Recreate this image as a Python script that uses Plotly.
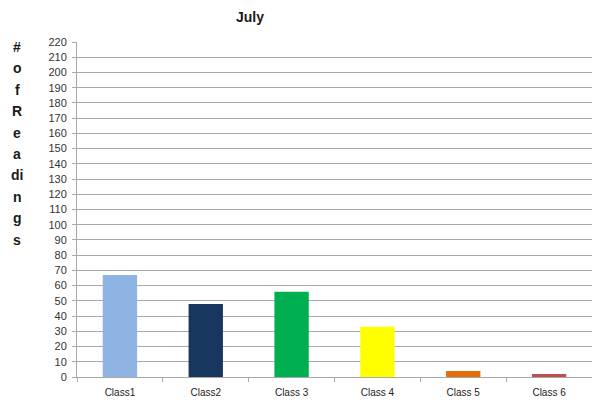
import plotly.graph_objects as go

# Readings per class for July
classes = ["Class1", "Class2", "Class 3", "Class 4", "Class 5", "Class 6"]
readings = [67, 48, 56, 33, 4, 2]
bar_colors = ["#8DB4E2", "#17375E", "#00B050", "#FFFF00", "#E46C0A", "#C0504D"]

# Vertical axis title, one stacked piece per line
axis_title_lines = ["#", "o", "f", "R", "e", "a", "di", "n", "g", "s"]

PLOT_TOP, PLOT_BOTTOM, PLOT_LEFT, WIDTH = 42, 377, 77, 592
plot_h = PLOT_BOTTOM - PLOT_TOP
plot_w = WIDTH - PLOT_LEFT

fig = go.Figure(
    go.Bar(
        x=classes,
        y=readings,
        marker=dict(color=bar_colors, line=dict(width=0)),
        width=0.4,
    )
)

annotations = [
    dict(
        text="<b>July</b>",
        xref="paper", yref="paper",
        x=(250 - PLOT_LEFT) / plot_w,
        y=(PLOT_BOTTOM - 17) / plot_h,
        xanchor="center", yanchor="middle",
        showarrow=False,
        font=dict(size=14, color="#1a1a1a"),
    )
]
line_step = 21.4
for i, piece in enumerate(axis_title_lines):
    py = 47 + i * line_step
    annotations.append(
        dict(
            text="<b>" + piece + "</b>",
            xref="paper", yref="paper",
            x=(17 - PLOT_LEFT) / plot_w,
            y=(PLOT_BOTTOM - py) / plot_h,
            xanchor="center", yanchor="middle",
            showarrow=False,
            font=dict(size=14, color="#1a1a1a"),
        )
    )

fig.update_layout(
    width=WIDTH,
    height=404,
    margin=dict(l=PLOT_LEFT, r=0, t=PLOT_TOP, b=404 - PLOT_BOTTOM),
    paper_bgcolor="white",
    plot_bgcolor="white",
    showlegend=False,
    font=dict(family="Arial, Liberation Sans, sans-serif", color="#444"),
    annotations=annotations,
)

fig.update_yaxes(
    range=[0, 220],
    dtick=10,
    showgrid=True,
    gridcolor="#a8a8a8",
    gridwidth=1,
    showline=True,
    linecolor="#a8a8a8",
    ticks="outside",
    ticklen=4,
    tickcolor="#a8a8a8",
    ticklabelstandoff=3,
    tickfont=dict(size=11, color="#333333"),
    zeroline=False,
)

fig.update_xaxes(
    showline=True,
    linecolor="#a8a8a8",
    ticks="outside",
    tickson="boundaries",
    ticklen=4,
    tickcolor="#a8a8a8",
    ticklabelstandoff=6,
    tickfont=dict(size=10, color="#222222"),
    showgrid=False,
)

fig.write_html("out.html")
